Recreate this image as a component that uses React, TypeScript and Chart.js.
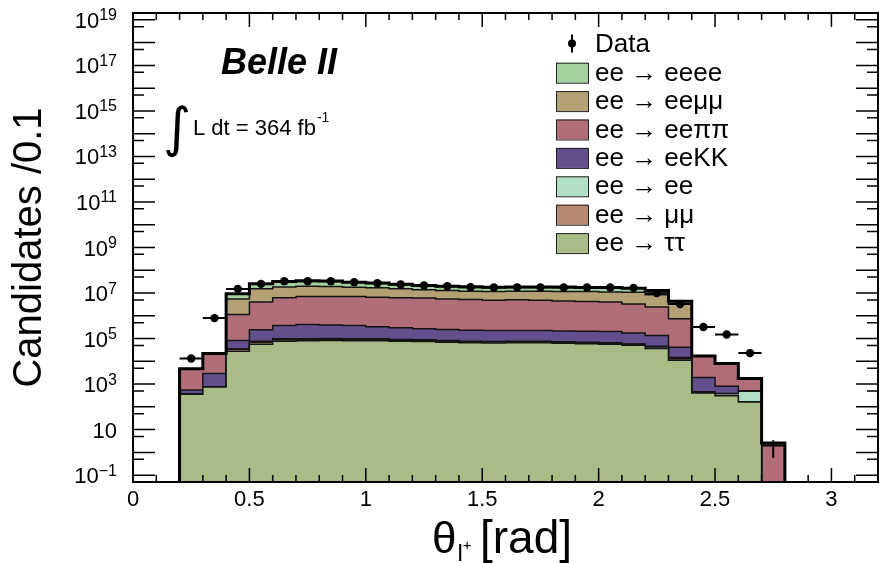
import React, { useEffect, useRef } from 'react';
import { Chart, registerables } from 'chart.js';

Chart.register(...registerables);

// ---------------- data ----------------
const BIN_LOW = [0.2, 0.3, 0.4, 0.5, 0.6, 0.7, 0.8, 0.9, 1.0, 1.1, 1.2, 1.3, 1.4, 1.5, 1.6, 1.7, 1.8, 1.9, 2.0, 2.1, 2.2, 2.3, 2.4, 2.5, 2.6, 2.7];
const BIN_WIDTH = 0.1;

const DATA = [13400, 790000, 15200000, 25200000, 33200000, 33200000, 33200000, 30000000, 27100000, 23800000, 21500000, 20000000, 18100000, 17500000, 17800000, 17800000, 17600000, 17600000, 17500000, 16800000, 9900000, 3300000, 320000, 150000, 23000, 2];

// stacked MC components, bottom of the stack first
const TAUTAU = [360, 740, 27900, 56800, 76800, 80200, 81800, 80200, 80200, 76800, 74500, 69300, 65100, 64600, 65100, 65100, 62800, 59600, 56800, 51300, 36700, 11200, 410, 310, 165, 0];
const MUMU = [7, 8, 6300, 12500, 10900, 9200, 10000, 9200, 9200, 8400, 7300, 7500, 7700, 7200, 7700, 7700, 5200, 5500, 4700, 3800, 1700, 1700, 13, 7, 3, 0];
const EE = [7, 8, 800, 7500, 9200, 7500, 8000, 7500, 7500, 6700, 5800, 5000, 4000, 2700, 4000, 4000, 3800, 4200, 3200, 3300, 7800, 1800, 32, 70, 320, 0];
const EEKK = [170, 2170, 46800, 164000, 279000, 321000, 297000, 279000, 237000, 204000, 180000, 169000, 157000, 153000, 150000, 150000, 145000, 141000, 141000, 119000, 90700, 27100, 1500, 420, 25, 0];
const EEPIPI = [4120, 19000, 1070000, 3770000, 5810000, 6660000, 6680000, 6680000, 6180000, 5880000, 5740000, 5260000, 4940000, 4610000, 4780000, 4610000, 4290000, 4040000, 3810000, 3160000, 2270000, 693000, 14700, 7200, 1240, 2.6];
const EEMUMU = [10, 170, 4360000, 11400000, 12000000, 13000000, 12500000, 11100000, 10400000, 9200000, 7800000, 7500000, 6800000, 6800000, 7000000, 7200000, 7200000, 7300000, 7200000, 7500000, 5900000, 2500000, 330, 0, 0, 0];
const EEEE = [7, 170, 3670000, 10000000, 14200000, 14400000, 13900000, 11900000, 10400000, 9200000, 7700000, 7000000, 6700000, 6500000, 6200000, 6200000, 6500000, 6000000, 6300000, 5500000, 4700000, 1090000, 170, 0, 0, 0];

const STACK_LABELS = ['ee → ττ', 'ee → μμ', 'ee → ee', 'ee → eeKK', 'ee → eeππ', 'ee → eeμμ', 'ee → eeee'];
const STACK_VALUES = [TAUTAU, MUMU, EE, EEKK, EEPIPI, EEMUMU, EEEE];

const X_TICKS = [0, 0.5, 1, 1.5, 2, 2.5, 3];
const Y_LABEL_EXPONENTS = [-1, 1, 3, 5, 7, 9, 11, 13, 15, 17, 19];

const X_TITLE = 'θ';
const X_TITLE_SUB = 'l';
const X_TITLE_SUP = '+';
const X_TITLE_UNIT = '[rad]';
const Y_TITLE = 'Candidates /0.1';
const EXPERIMENT = 'Belle II';
const LUMI_TEXT = 'L dt = 364 fb';
const LUMI_EXP = '-1';
const DATA_LABEL = 'Data';

// ---------------- styles ----------------
const STACK_COLORS = ['#a9bb87', '#b98a73', '#b1dfc5', '#634f8b', '#b16e79', '#b3a074', '#a5d19e'];
const SANS = "'Liberation Sans', Arial, Helvetica, sans-serif";
const Y_MIN = 0.05;
const Y_MAX = 2e19;
const FLOOR = 1e-4;

function stepPoints(vals: number[]) {
  const pts: { x: number; y: number }[] = [];
  const last = vals.length - 1;
  pts.push({ x: BIN_LOW[0], y: FLOOR });
  vals.forEach((v, i) => pts.push({ x: BIN_LOW[i], y: v > 0 ? v : FLOOR }));
  pts.push({ x: BIN_LOW[last] + BIN_WIDTH, y: vals[last] > 0 ? vals[last] : FLOOR });
  pts.push({ x: BIN_LOW[last] + BIN_WIDTH, y: FLOOR });
  return pts;
}

const supText = (e: number) => String(e).replace('-', '−');

const decorations = {
  id: 'decorations',
  afterDatasetsDraw(chart: any) {
    const { ctx, chartArea: a } = chart;
    const xs = chart.scales.x;
    const ys = chart.scales.y;
    ctx.save();
    ctx.beginPath();
    ctx.rect(a.left, a.top, a.right - a.left, a.bottom - a.top);
    ctx.clip();
    ctx.strokeStyle = '#000';
    ctx.lineWidth = 2;
    DATA.forEach((n, i) => {
      const lo = BIN_LOW[i];
      const px = xs.getPixelForValue(lo + BIN_WIDTH / 2);
      const py = ys.getPixelForValue(n);
      const err = Math.sqrt(n);
      ctx.beginPath();
      ctx.moveTo(xs.getPixelForValue(lo), py);
      ctx.lineTo(xs.getPixelForValue(lo + BIN_WIDTH), py);
      ctx.moveTo(px, ys.getPixelForValue(n + err));
      ctx.lineTo(px, ys.getPixelForValue(Math.max(n - err, FLOOR)));
      ctx.stroke();
    });
    ctx.restore();
  },
  afterDraw(chart: any) {
    const { ctx, chartArea: a } = chart;
    const xs = chart.scales.x;
    const ys = chart.scales.y;
    ctx.save();
    ctx.strokeStyle = '#000';
    ctx.fillStyle = '#000';

    // tick marks (inside the frame, all four sides)
    ctx.lineWidth = 1.5;
    ctx.beginPath();
    for (let k = 1; k < 32; k++) {
      const px = xs.getPixelForValue(k / 10);
      const len = k % 5 === 0 ? 14 : 7;
      ctx.moveTo(px, a.bottom);
      ctx.lineTo(px, a.bottom - len);
      ctx.moveTo(px, a.top);
      ctx.lineTo(px, a.top + len);
    }
    for (let e = -2; e <= 19; e++) {
      const marks: [number, number][] = [[Math.pow(10, e), 22], [0.5 * Math.pow(10, e), 11]];
      for (const [v, len] of marks) {
        if (v <= Y_MIN || v >= Y_MAX) continue;
        const py = ys.getPixelForValue(v);
        ctx.moveTo(a.left, py);
        ctx.lineTo(a.left + len, py);
        ctx.moveTo(a.right, py);
        ctx.lineTo(a.right - len, py);
      }
    }
    ctx.stroke();

    // frame
    ctx.lineWidth = 2;
    ctx.strokeRect(a.left, a.top, a.right - a.left, a.bottom - a.top);

    // y tick labels 10^n
    ctx.textAlign = 'right';
    ctx.textBaseline = 'alphabetic';
    const rightEdge = a.left - 16;
    Y_LABEL_EXPONENTS.forEach((e) => {
      const py = ys.getPixelForValue(Math.pow(10, e));
      if (e === 1) {
        ctx.font = `22px ${SANS}`;
        ctx.fillText('10', rightEdge, py + 8);
        return;
      }
      const sup = supText(e);
      ctx.font = `16px ${SANS}`;
      const w = ctx.measureText(sup).width;
      ctx.fillText(sup, rightEdge, py + 0.5);
      ctx.font = `22px ${SANS}`;
      ctx.fillText('10', rightEdge - w, py + 8);
    });

    // x axis title
    ctx.textAlign = 'left';
    let tx = 432;
    const base = 553;
    ctx.font = `44px ${SANS}`;
    ctx.fillText(X_TITLE, tx, base);
    tx += ctx.measureText(X_TITLE).width;
    ctx.font = `24px ${SANS}`;
    ctx.fillText(X_TITLE_SUB, tx + 1, base + 8);
    tx += ctx.measureText(X_TITLE_SUB).width + 1;
    ctx.font = `15px ${SANS}`;
    ctx.fillText(X_TITLE_SUP, tx, base - 3);
    ctx.font = `46px ${SANS}`;
    ctx.fillText(X_TITLE_UNIT, 480, base);

    // experiment label
    ctx.font = `italic bold 36px ${SANS}`;
    ctx.fillText(EXPERIMENT, 221, 74);

    // luminosity
    ctx.font = `54px 'DejaVu Sans', ${SANS}`;
    ctx.fillText('∫', 163, 146);
    ctx.font = `22px ${SANS}`;
    ctx.fillText(LUMI_TEXT, 193, 135);
    const lw = ctx.measureText(LUMI_TEXT).width;
    ctx.font = `14px ${SANS}`;
    ctx.fillText(LUMI_EXP, 193 + lw + 1, 122);

    // legend
    const boxX = 556;
    const textX = 595;
    ctx.font = `26px ${SANS}`;
    ctx.textBaseline = 'middle';
    const dy = 43.5;
    ctx.lineWidth = 2;
    ctx.beginPath();
    ctx.moveTo(572, dy - 9);
    ctx.lineTo(572, dy + 9);
    ctx.stroke();
    ctx.beginPath();
    ctx.arc(572, dy, 4, 0, Math.PI * 2);
    ctx.fill();
    ctx.fillText(DATA_LABEL, textX, dy + 1);
    ctx.lineWidth = 1;
    for (let k = STACK_LABELS.length - 1, row = 0; k >= 0; k--, row++) {
      const cy = 72.7 + row * 28.4;
      ctx.fillStyle = STACK_COLORS[k];
      ctx.fillRect(boxX, cy - 10, 32, 20);
      ctx.strokeStyle = '#222';
      ctx.strokeRect(boxX + 0.5, cy - 9.5, 32, 20);
      ctx.fillStyle = '#000';
      ctx.fillText(STACK_LABELS[k], textX, cy + 1);
    }
    ctx.restore();
  },
};

export default function App() {
  const canvasRef = useRef<HTMLCanvasElement | null>(null);

  useEffect(() => {
    if (!canvasRef.current) return;

    const cumulative: number[][] = [];
    let running = BIN_LOW.map(() => 0);
    STACK_VALUES.forEach((vals) => {
      running = running.map((r, i) => r + vals[i]);
      cumulative.push(running);
    });
    const total = cumulative[cumulative.length - 1];

    const stackSets = cumulative.map((cum, k) => ({
      label: STACK_LABELS[k],
      data: stepPoints(cum),
      stepped: 'before' as const,
      fill: 'start',
      backgroundColor: STACK_COLORS[k],
      borderColor: '#151515',
      borderWidth: 1.5,
      pointRadius: 0,
      order: 2 + k,
    }));

    const chart = new Chart(canvasRef.current, {
      type: 'line',
      data: {
        datasets: [
          {
            label: DATA_LABEL,
            data: DATA.map((n, i) => ({ x: BIN_LOW[i] + BIN_WIDTH / 2, y: n })),
            showLine: false,
            pointRadius: (c: any) => ((c.raw && c.raw.y < 10) ? 0 : 4.2),
            pointBackgroundColor: '#000',
            pointBorderWidth: 0,
            order: 0,
          } as any,
          {
            label: 'total',
            data: stepPoints(total),
            stepped: 'before',
            fill: false,
            borderColor: '#000',
            borderWidth: 3,
            pointRadius: 0,
            order: 1,
          } as any,
          ...(stackSets as any[]),
        ],
      },
      options: {
        animation: false,
        responsive: false,
        events: [],
        layout: { padding: { top: 13, right: 7, left: 0, bottom: 0 } },
        plugins: { legend: { display: false }, tooltip: { enabled: false } },
        scales: {
          x: {
            type: 'linear',
            min: 0,
            max: 3.2,
            grid: { display: false, drawTicks: false },
            border: { display: false },
            afterBuildTicks: (s: any) => {
              s.ticks = X_TICKS.map((v) => ({ value: v }));
            },
            afterFit: (s: any) => {
              s.height = 81;
            },
            ticks: {
              includeBounds: false,
              autoSkip: false,
              maxRotation: 0,
              padding: 5,
              color: '#000',
              font: { family: SANS, size: 22 },
              callback: (v: any) => String(Number(v)),
            },
          },
          y: {
            type: 'logarithmic',
            min: Y_MIN,
            max: Y_MAX,
            grid: { display: false, drawTicks: false },
            border: { display: false },
            afterBuildTicks: (s: any) => {
              s.ticks = Y_LABEL_EXPONENTS.map((e) => ({ value: Math.pow(10, e) }));
            },
            afterFit: (s: any) => {
              s.width = 133;
            },
            ticks: { display: false },
            title: {
              display: true,
              text: Y_TITLE,
              color: '#000',
              font: { family: SANS, size: 40 },
              padding: { top: 6, bottom: 0 },
            },
          },
        },
      },
      plugins: [decorations],
    });

    return () => chart.destroy();
  }, []);

  return (
    <div style={{ position: 'absolute', left: 0, top: 0, width: 885, height: 563, background: '#fff' }}>
      <canvas ref={canvasRef} width={885} height={563} />
    </div>
  );
}
